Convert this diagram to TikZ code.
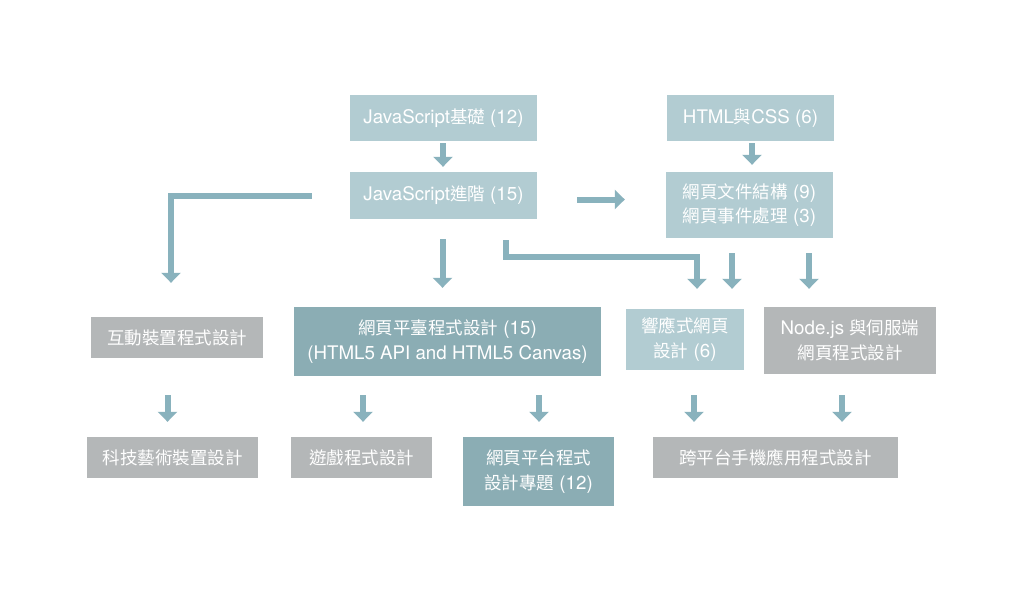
\documentclass[tikz,border=0pt]{standalone}
\usepackage{fontspec}
\setmainfont{TeX Gyre Heros}[Scale=1.07]
\newfontfamily\zh{Noto Sans CJK TC}
\usetikzlibrary{arrows.meta}
\definecolor{lightbox}{RGB}{178,204,210}
\definecolor{darkbox}{RGB}{139,173,180}
\definecolor{graybox}{RGB}{180,183,184}
\definecolor{arrowc}{RGB}{137,178,189}
\begin{document}
\begin{tikzpicture}[x=1pt,y=-1pt,
  box/.style={inner sep=0pt, align=center, text=white, font=\fontsize{17.5}{24.5}\selectfont},
  lbox/.style={box, fill=lightbox},
  dbox/.style={box, fill=darkbox},
  gbox/.style={box, fill=graybox},
  arr/.style={draw=arrowc, line width=6pt, line join=miter, -{Triangle[width=19pt,length=10pt]}}]
\fill[white] (0,0) rectangle (1024,600);
\useasboundingbox (0,0) rectangle (1024,600);

% nodes
\node[lbox, minimum width=187pt, minimum height=46pt] (jsb) at (443.5,118) {JavaScript{\zh 基礎} (12)};
\node[lbox, minimum width=187pt, minimum height=47pt] (jsa) at (443.5,195.5) {JavaScript{\zh 進階} (15)};
\node[lbox, minimum width=167pt, minimum height=46pt] (html) at (750.5,118) {HTML{\zh 與}CSS (6)};
\node[lbox, minimum width=167pt, minimum height=66pt] (dom) at (749.5,205) {{\zh 網頁文件結構} (9)\\{\zh 網頁事件處理} (3)};
\node[gbox, minimum width=172pt, minimum height=41pt] (iot) at (177,337.5) {\zh 互動裝置程式設計};
\node[dbox, minimum width=307pt, minimum height=69pt] (web) at (447.5,341.5) {{\zh 網頁平臺程式設計} (15)\\(HTML5 API and HTML5 Canvas)};
\node[lbox, minimum width=118pt, minimum height=61pt] (rwd) at (685,339.5) {{\zh 響應式網頁}\\{\zh 設計} (6)};
\node[gbox, minimum width=172pt, minimum height=67pt] (nodejs) at (850,340.5) {Node.js {\zh 與伺服端}\\{\zh 網頁程式設計}};
\node[gbox, minimum width=171pt, minimum height=41pt] (art) at (172.5,457.5) {\zh 科技藝術裝置設計};
\node[gbox, minimum width=141pt, minimum height=41pt] (game) at (361.5,457.5) {\zh 遊戲程式設計};
\node[dbox, minimum width=151pt, minimum height=69pt] (proj) at (538.5,471.5) {{\zh 網頁平台程式}\\{\zh 設計專題} (12)};
\node[gbox, minimum width=245pt, minimum height=41pt] (app) at (775.5,457.5) {\zh 跨平台手機應用程式設計};

% connectors
\draw[arr] ([xshift=-0.5pt,yshift=-2pt]jsb.south) -- ([xshift=-0.5pt,yshift=5pt]jsa.north);
\draw[arr] ([xshift=1.5pt,yshift=-2pt]html.south) -- ([xshift=2.5pt,yshift=7pt]dom.north);
\draw[arr] ([xshift=40pt,yshift=-4pt]jsa.east) -- ([xshift=-41pt,yshift=5.5pt]dom.west);
\draw[arr] ([xshift=-38pt,yshift=-0.5pt]jsa.west) -| ([xshift=-6pt,yshift=34pt]iot.north);
\draw[arr] ([xshift=-1pt,yshift=-20pt]jsa.south) -- ([xshift=-5pt,yshift=19pt]web.north);
\draw[arr] ([xshift=62.5pt,yshift=-21pt]jsa.south) -- ++(0,17) -| ([xshift=12pt,yshift=20pt]rwd.north);
\draw[arr] ([xshift=-17.5pt,yshift=-15pt]dom.south) -- ([xshift=47pt,yshift=20pt]rwd.north);
\draw[arr] ([xshift=59.5pt,yshift=-15pt]dom.south) -- ([xshift=-41pt,yshift=18pt]nodejs.north);
\draw[arr] ([xshift=-9.5pt,yshift=-37pt]iot.south) -- ([xshift=-5pt,yshift=15pt]art.north);
\draw[arr] ([xshift=-84.5pt,yshift=-19pt]web.south) -- ([xshift=1.5pt,yshift=15pt]game.north);
\draw[arr] ([xshift=91.5pt,yshift=-19pt]web.south) -- ([xshift=0.5pt,yshift=15pt]proj.north);
\draw[arr] ([xshift=9pt,yshift=-25pt]rwd.south) -- ([xshift=-81.5pt,yshift=15pt]app.north);
\draw[arr] ([xshift=-8pt,yshift=-21pt]nodejs.south) -- ([xshift=66.5pt,yshift=15pt]app.north);
\end{tikzpicture}
\end{document}
